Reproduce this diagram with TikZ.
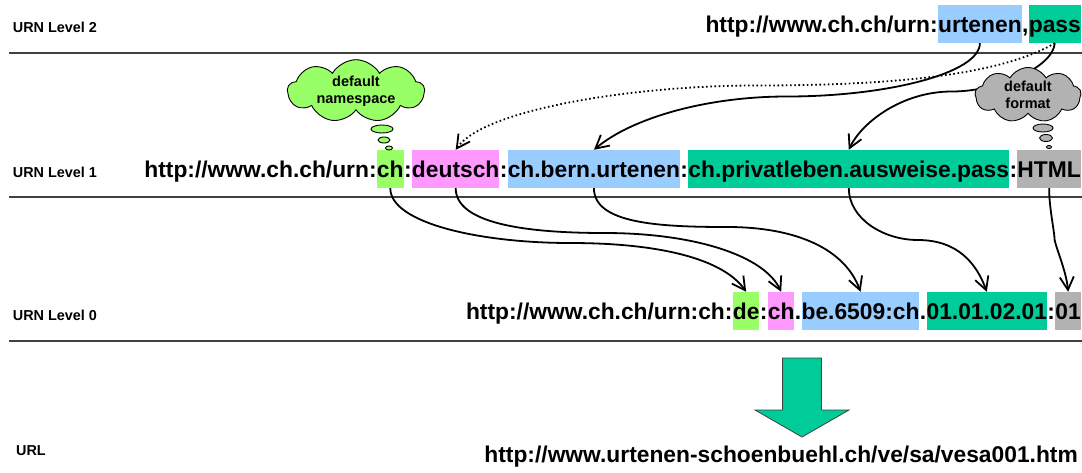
\documentclass[tikz,border=0pt]{standalone}
\usepackage{fontspec}
\setmainfont{Liberation Sans}
\usetikzlibrary{arrows.meta,shapes.symbols,shapes.geometric,calc}
\definecolor{cgreen}{RGB}{153,255,102}
\definecolor{cpink}{RGB}{255,153,255}
\definecolor{cblue}{RGB}{153,204,255}
\definecolor{cteal}{RGB}{0,204,153}
\definecolor{cgrey}{RGB}{178,178,178}
\definecolor{crule}{RGB}{64,64,64}
\begin{document}
\begin{tikzpicture}[x=1pt,y=1pt,
  bigfont/.style={font=\fontsize{22.8}{27}\selectfont\bfseries},
  seg/.style={bigfont, inner xsep=0pt, inner ysep=0pt, text height=27pt, text depth=11pt, anchor=base east},
  lvl/.style={inner sep=0pt, anchor=base west, font=\fontsize{14.4}{17}\selectfont\bfseries},
  rule/.style={draw=crule, line width=1.3pt},
  conn/.style={line width=1.8pt, -{Straight Barb[length=13pt,width=14pt]}},
  dots/.style={conn, dash pattern=on 1.6pt off 2.6pt},
  thought/.style={cloud, cloud puffs=9, cloud puff arc=120, cloud ignores aspect, draw=black, line width=0.9pt, align=center, font=\fontsize{14.5}{17}\selectfont\bfseries, inner sep=0pt},
  bubble/.style={ellipse, draw=black, line width=0.9pt, inner sep=0pt},
]
\useasboundingbox (0,0) rectangle (1082,-472);
\fill[white] (0,0) rectangle (1082,-472);

% level rules
\draw[rule] (9,-53) -- (1082,-53);
\draw[rule] (9,-197) -- (1082,-197);
\draw[rule] (9,-341) -- (1082,-341);

% labels
\node[lvl] (lab2) at (12.7,-32) {URN Level 2};
\node[lvl] (lab1) at (12.7,-177) {URN Level 1};
\node[lvl] (lab0) at (12.7,-320) {URN Level 0};
\node[lvl] (labu) at (16,-455) {URL};

% level 2
\node[seg, fill=cteal] (l2pass) at (1081,-32) {pass};
\node[seg] (l2c1) at (l2pass.base west) {,};
\node[seg, fill=cblue] (l2urt) at (l2c1.base west) {urtenen};
\node[seg] (l2pre) at (l2urt.base west) {http://www.ch.ch/urn:};

% level 1
\node[seg, fill=cgrey] (l1html) at (1081,-177) {HTML};
\node[seg] (l1c4) at (l1html.base west) {:};
\node[seg, fill=cteal] (l1priv) at (l1c4.base west) {ch.privatleben.ausweise.pass};
\node[seg] (l1c3) at (l1priv.base west) {:};
\node[seg, fill=cblue] (l1bern) at (l1c3.base west) {ch.bern.urtenen};
\node[seg] (l1c2) at (l1bern.base west) {:};
\node[seg, fill=cpink] (l1deu) at (l1c2.base west) {deutsch};
\node[seg] (l1c1) at (l1deu.base west) {:};
\node[seg, fill=cgreen] (l1ch) at (l1c1.base west) {ch};
\node[seg] (l1pre) at (l1ch.base west) {http://www.ch.ch/urn:};

% level 0
\node[seg, fill=cgrey] (l0x) at (1081,-319) {01};
\node[seg] (l0c3) at (l0x.base west) {:};
\node[seg, fill=cteal] (l0num) at (l0c3.base west) {01.01.02.01};
\node[seg] (l0d2) at (l0num.base west) {.};
\node[seg, fill=cblue] (l0be) at (l0d2.base west) {be.6509:ch};
\node[seg] (l0d1) at (l0be.base west) {.};
\node[seg, fill=cpink] (l0ch) at (l0d1.base west) {ch};
\node[seg] (l0c1) at (l0ch.base west) {:};
\node[seg, fill=cgreen] (l0de) at (l0c1.base west) {de};
\node[seg] (l0pre) at (l0de.base west) {http://www.ch.ch/urn:ch:};

% URL
\node[bigfont, inner sep=0pt, anchor=base east] (url) at (1078,-462) {http://www.urtenen-schoenbuehl.ch/ve/sa/vesa001.htm};

% big arrow
\draw[fill=cteal, draw=crule, line width=0.8pt] (782.5,-358) -- (821.5,-358) -- (821.5,-410) -- (849,-410) -- (802,-437) -- (755,-410) -- (782.5,-410) -- cycle;

% midpoints
\coordinate (m1) at ($(l2urt.south)!0.5!(l1bern.north)$);
\coordinate (m2) at ($(l2pass.south)!0.5!(l1deu.north)+(0,11)$);
\coordinate (m3) at ($(l2pass.south)!0.5!(l1priv.north)+(0,5)$);
\coordinate (ma) at ($(l1ch.south)!0.5!(l0de.north)+(2,-3)$);
\coordinate (mb) at ($(l1deu.south)!0.5!(l0ch.north)+(-14,7)$);
\coordinate (mc) at ($(l1bern.south)!0.5!(l0be.north)+(0,13)$);
\coordinate (md) at ($(l1priv.south)!0.5!(l0num.north)$);
\coordinate (me) at ($(l1html.south)!0.5!(l0x.north)+(-4,0)$);

% level 2 -> level 1
\draw[conn] (l2urt.south) to[out=-90,in=0,out distance=30pt,in distance=100pt] (m1)
  to[out=180,in=40,out distance=80pt,in distance=50pt] (l1bern.north);
\draw[conn] (l2pass.south) to[out=-95,in=0,out distance=25pt,in distance=45pt] (m3)
  to[out=180,in=65,out distance=50pt,in distance=30pt] (l1priv.north);

% level 1 -> level 0
\draw[conn] (l1ch.south) to[out=-90,in=180,out distance=35pt,in distance=90pt] (ma)
  to[out=0,in=125,out distance=90pt,in distance=40pt] (l0de.north);
\draw[conn] (l1deu.south) to[out=-90,in=180,out distance=35pt,in distance=80pt] (mb)
  to[out=0,in=115,out distance=90pt,in distance=40pt] (l0ch.north);
\draw[conn] (l1bern.south) to[out=-90,in=180,out distance=35pt,in distance=70pt] (mc)
  to[out=0,in=110,out distance=70pt,in distance=45pt] (l0be.north);
\draw[conn] (l1priv.south) to[out=-90,in=180,out distance=30pt,in distance=35pt] (md)
  to[out=0,in=110,out distance=40pt,in distance=30pt] (l0num.north);
\draw[conn] (l1html.south) to[out=-90,in=92,out distance=20pt,in distance=10pt] (me)
  to[out=-78,in=95,out distance=10pt,in distance=20pt] (l0x.north);

% thought clouds
\node[thought, fill=cgreen, minimum width=137pt, minimum height=55pt] (cns) at (356,-91) {default\\namespace};
\node[bubble, fill=cgreen, minimum width=22pt, minimum height=8pt] (bn1) at (382,-129) {};
\node[bubble, fill=cgreen, minimum width=12pt, minimum height=6pt] (bn2) at (384,-140) {};
\node[bubble, fill=cgreen, minimum width=7pt, minimum height=4pt] (bn3) at (389,-148) {};

\node[thought, fill=cgrey, minimum width=106pt, minimum height=55pt] (cfmt) at (1028,-95) {default\\format};
\node[bubble, fill=cgrey, minimum width=20pt, minimum height=8pt] (bf1) at (1043,-128) {};
\node[bubble, fill=cgrey, minimum width=13pt, minimum height=7pt] (bf2) at (1046,-138) {};
\node[bubble, fill=cgrey, minimum width=5pt, minimum height=3pt] (bf3) at (1049,-147) {};

% dotted connector
\draw[dots] (l2pass.south) to[out=-150,in=0,out distance=60pt,in distance=150pt] (m2)
  to[out=180,in=55,out distance=120pt,in distance=50pt] (l1deu.north);
\end{tikzpicture}
\end{document}
